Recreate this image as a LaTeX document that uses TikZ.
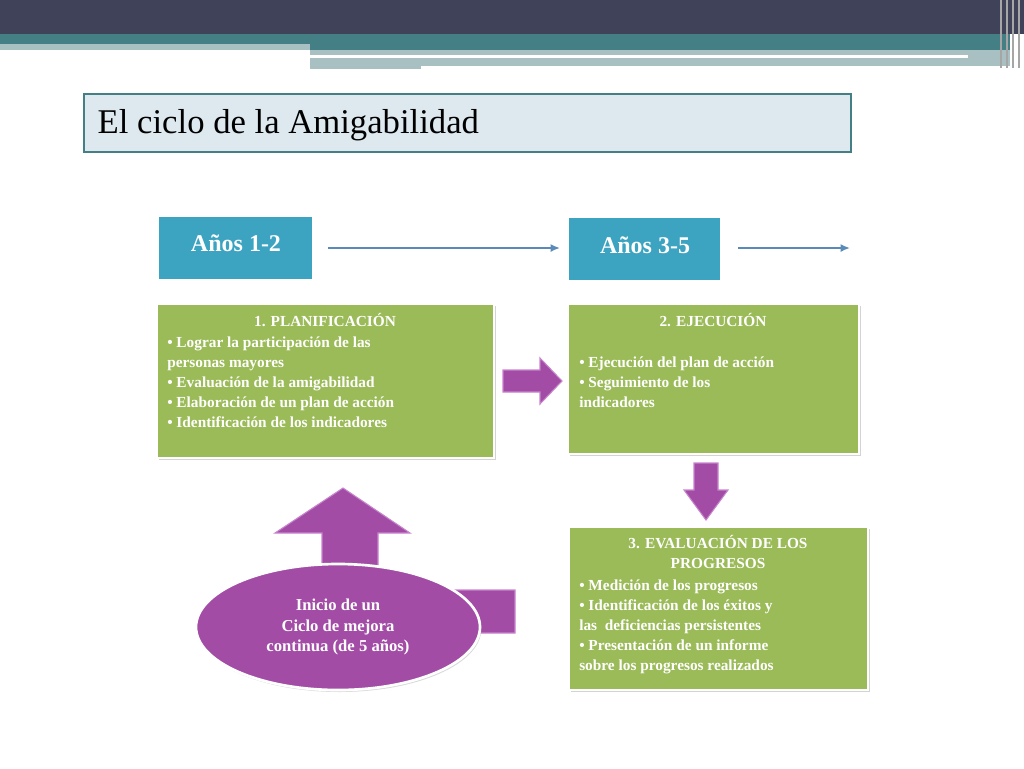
\documentclass[tikz,border=0pt]{standalone}
\usepackage{fontspec}
\setmainfont{Liberation Serif}
\usetikzlibrary{shapes.geometric,shadows}
\definecolor{dark}{HTML}{40425A}
\definecolor{teal1}{HTML}{447F86}
\definecolor{lite}{HTML}{A9C0C3}
\definecolor{titbg}{HTML}{DDE8EF}
\definecolor{yrs}{HTML}{3CA3C1}
\definecolor{grn}{HTML}{9BBB59}
\definecolor{purp}{HTML}{A24CA6}
\definecolor{purl}{HTML}{C784CC}
\definecolor{arr}{HTML}{5A8BB8}
\tikzset{
 yrbox/.style={draw=white,line width=2pt,fill=yrs,text=white,font=\bfseries\fontsize{18}{20}\selectfont,inner sep=0},
 gbox/.style={draw=white,line width=1.5pt,fill=grn,text=white,drop shadow={shadow xshift=1.5pt,shadow yshift=-1.5pt,opacity=0.35},inner sep=0},
 gtext/.style={text=white,font=\bfseries\fontsize{11.5}{15}\selectfont,align=left,anchor=north west,inner sep=0},
 blk/.style={fill=purp,draw=purl,line width=0.8pt},
 flow/.style={draw=arr,line width=1.3pt,-{Latex[length=7pt,width=6pt]}}
}
\usetikzlibrary{arrows.meta}
\begin{document}
\begin{tikzpicture}[x=0.75pt,y=-0.75pt]
\useasboundingbox (0,0) rectangle (1024,768);
% banner
\fill[dark] (0,0) rectangle (1024,34);
\fill[teal1] (0,34) rectangle (1010,44);
\fill[lite] (0,44) rectangle (310,50);
\fill[teal1] (310,44) rectangle (1010,50);
\fill[lite] (310,50) rectangle (1010,66);
\fill[white] (310,55) rectangle (968,58);
\fill[lite] (310,66) rectangle (421,69);
\foreach \x in {1000,1006,1012,1018}{\fill[gray!70] (\x,0) rectangle (\x+2,68);}
% title
\node[draw=teal1,line width=1.5pt,fill=titbg,minimum width=767*0.75pt,minimum height=58*0.75pt,inner sep=0] (title) at (467.5,123) {};
\node[anchor=west,font=\fontsize{26}{28}\selectfont,text=black] (tt) at (93,125) {El ciclo de la Amigabilidad};
% year boxes
\node[yrbox,minimum width=155*0.75pt,minimum height=64*0.75pt] (y1) at (235.5,248) {};
\node[text=white,font=\bfseries\fontsize{18}{20}\selectfont] (y1t) at (236,243) {Años 1-2};
\node[yrbox,minimum width=153*0.75pt,minimum height=64*0.75pt] (y2) at (644.5,249) {};
\node[text=white,font=\bfseries\fontsize{18}{20}\selectfont] (y2t) at (645,245) {Años 3-5};
\coordinate (e1) at (328,248);
\coordinate (e2) at (560,248);
\coordinate (e3) at (738,248);
\coordinate (e4) at (850,248);
\draw[flow] (e1) -- (e2);
\draw[flow] (e3) -- (e4);
% green boxes
\node[gbox,minimum width=337*0.75pt,minimum height=154*0.75pt] (g1) at (325.5,381) {};
\node[gbox,minimum width=291*0.75pt,minimum height=150*0.75pt] (g2) at (713.5,379) {};
\node[gbox,minimum width=299*0.75pt,minimum height=163*0.75pt] (g3) at (718.5,608.5) {};
\node[text=white,font=\bfseries\fontsize{11.5}{15}\selectfont] (h1) at (325,320) {1. PLANIFICACIÓN};
\node[gtext] (b1) at (167,337) {• Lograr la participación de las\\personas mayores\\• Evaluación de la amigabilidad\\• Elaboración de un plan de acción\\• Identificación de los indicadores};
\node[text=white,font=\bfseries\fontsize{11.5}{15}\selectfont] (h2) at (713,320) {2. EJECUCIÓN};
\node[gtext] (b2) at (579,357) {• Ejecución del plan de acción\\• Seguimiento de los\\indicadores};
\node[text=white,font=\bfseries\fontsize{11.5}{15}\selectfont,align=center] (h3) at (718,552) {3. EVALUACIÓN DE LOS\\PROGRESOS};
\node[gtext] (b3) at (579,580) {• Medición de los progresos\\• Identificación de los éxitos y\\las\ \ deficiencias persistentes\\• Presentación de un informe\\sobre los progresos realizados};
% block arrows
\draw[blk] (503,370) -- (540,370) -- (540,358) -- (562,381) -- (540,404) -- (540,392) -- (503,392) -- cycle;
\draw[blk] (694,463) -- (718,463) -- (718,490) -- (728,490) -- (706,520) -- (684,490) -- (694,490) -- cycle;
% bent up arrow
\draw[blk] (322,600) -- (322,533) -- (275,533) -- (343,488) -- (410,533) -- (378,533) -- (378,590) -- (515,590) -- (515,633) -- (400,633) -- (322,633) -- cycle;
% ellipse
\node[ellipse,fill=purp,draw=white,line width=2pt,minimum width=284*0.75pt,minimum height=126*0.75pt,drop shadow={shadow xshift=1pt,shadow yshift=-1.5pt,opacity=0.3},text=white,font=\bfseries\fontsize{12.5}{15.5}\selectfont,align=center] (ell) at (338,627) {Inicio de un\\Ciclo de mejora\\continua (de 5 años)};
\end{tikzpicture}
\end{document}
